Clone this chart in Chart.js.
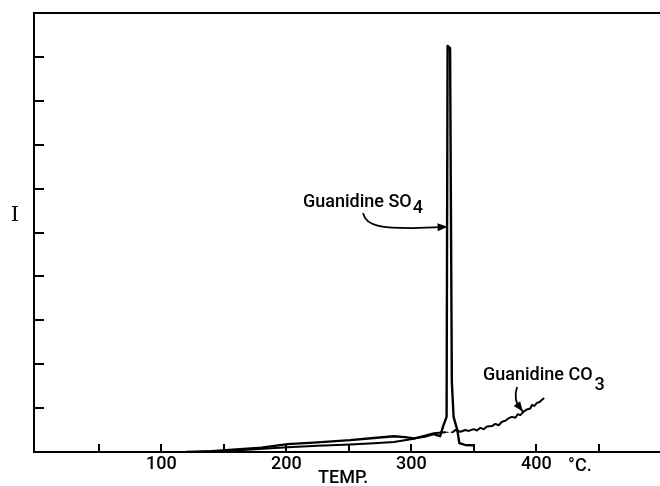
<!DOCTYPE html>
<html>
<head>
<meta charset="utf-8">
<script src="https://cdn.jsdelivr.net/npm/chart.js@4.4.1/dist/chart.umd.min.js"></script>
<style>
    body { margin: 0; background: #fff; overflow: hidden; }
    canvas { display: block; }
</style>
</head>
<body>
<canvas id="chartCanvas" width="660" height="486"></canvas>
<script>
// temperature (°C) and intensity readings
let so4Temp      = [120, 140, 160, 180, 201, 225, 251, 270, 286, 295, 302, 312, 318, 321, 323, 325.6, 328.2, 329.0, 331.0, 332.4, 333.8, 336.8, 338.4, 343, 349.5];
let so4Intensity = [0, 0.02, 0.06, 0.1, 0.18, 0.22, 0.27, 0.32, 0.36, 0.34, 0.31, 0.36, 0.41, 0.38, 0.36, 0.6, 0.8, 9.25, 9.2, 1.6, 0.8, 0.5, 0.2, 0.16, 0.15];

let co3Temp      = [130, 150, 175, 201, 225, 251, 270, 286, 302, 312, 318, 322, 327, 333, 335.2, 339.2, 343.2, 345.9, 349.9, 352.5, 355.2, 357.9, 360.5, 364.5, 367.2, 369.9, 372.5, 375.2, 377.9, 380.5, 383.2, 385.1, 387.2, 389.9, 392.5, 395.2, 396.5, 398.4, 400.5, 402.6, 405.8];
let co3Intensity = [0, 0.02, 0.06, 0.11, 0.14, 0.17, 0.2, 0.23, 0.3, 0.38, 0.43, 0.44, 0.45, 0.45, 0.5, 0.46, 0.5, 0.48, 0.52, 0.49, 0.55, 0.52, 0.58, 0.59, 0.64, 0.61, 0.69, 0.71, 0.77, 0.8, 0.78, 0.86, 0.84, 0.92, 0.97, 0.99, 1.07, 1.05, 1.12, 1.14, 1.22];

let xTicks  = [50, 100, 150, 200, 250, 300, 350, 400, 450];
let xLabels = { 100: '100', 200: '200', 300: '300', 400: '400' };
let yTicks  = [1, 2, 3, 4, 5, 6, 7, 8, 9];

let toPoints = function (xs, ys) {
    return xs.map(function (x, i) { return { x: x, y: ys[i] }; });
};

let letterFont = 'Roboto, "DejaVu Sans", sans-serif';

let drawArrow = function (ctx, pts, xs, ys) {
    let p = pts.map(function (d) { return [xs.getPixelForValue(d[0]), ys.getPixelForValue(d[1])]; });
    ctx.beginPath();
    ctx.moveTo(p[0][0], p[0][1]);
    ctx.bezierCurveTo(p[1][0], p[1][1], p[2][0], p[2][1], p[3][0], p[3][1]);
    ctx.lineTo(p[4][0], p[4][1]);
    ctx.stroke();
    // filled head, pointing along the last segment
    let ang = Math.atan2(p[4][1] - p[3][1], p[4][0] - p[3][0]);
    let tip = p[4];
    ctx.beginPath();
    ctx.moveTo(tip[0], tip[1]);
    ctx.lineTo(tip[0] - 10 * Math.cos(ang) + 4 * Math.sin(ang), tip[1] - 10 * Math.sin(ang) - 4 * Math.cos(ang));
    ctx.lineTo(tip[0] - 10 * Math.cos(ang) - 4 * Math.sin(ang), tip[1] - 10 * Math.sin(ang) + 4 * Math.cos(ang));
    ctx.closePath();
    ctx.fill();
};

let framePlugin = {
    id: 'frame',
    afterDraw: function (chart) {
        let ctx = chart.ctx;
        let a = chart.chartArea;
        let xs = chart.scales.x;
        let ys = chart.scales.y;

        ctx.save();
        ctx.strokeStyle = '#000';
        ctx.fillStyle = '#000';
        ctx.lineWidth = 2;
        ctx.lineCap = 'butt';

        // box: left, bottom, top (right side runs off the page)
        ctx.beginPath();
        ctx.moveTo(a.right, a.top);
        ctx.lineTo(a.left, a.top);
        ctx.lineTo(a.left, a.bottom);
        ctx.lineTo(a.right, a.bottom);
        ctx.stroke();

        // inward ticks
        ctx.beginPath();
        xTicks.forEach(function (v) {
            let px = Math.round(xs.getPixelForValue(v));
            ctx.moveTo(px, a.bottom);
            ctx.lineTo(px, a.bottom - 8);
        });
        yTicks.forEach(function (v) {
            let py = Math.round(ys.getPixelForValue(v));
            ctx.moveTo(a.left, py);
            ctx.lineTo(a.left + 10, py);
        });
        ctx.stroke();

        // axis words
        ctx.textBaseline = 'alphabetic';
        ctx.font = '21px "DejaVu Serif", serif';
        ctx.textAlign = 'center';
        ctx.fillText('I', 15, 221);
        ctx.font = '500 18px ' + letterFont;
        ctx.textAlign = 'left';
        ctx.fillText('TEMP.', 318, 483);
        ctx.fillText('°C.', 568, 471);

        // labels with subscripts
        let sx = xs.getPixelForValue(213.3), sy = ys.getPixelForValue(5.58);
        ctx.fillText('Guanidine SO', sx, sy);
        let w = ctx.measureText('Guanidine SO').width;
        ctx.fillText('4', sx + w + 1, sy + 6);

        let cx = xs.getPixelForValue(357.3), cy = ys.getPixelForValue(1.64);
        ctx.fillText('Guanidine CO', cx, cy);
        w = ctx.measureText('Guanidine CO').width;
        ctx.fillText('3', cx + w + 2, cy + 10);

        // arrows
        ctx.lineWidth = 1.8;
        drawArrow(ctx, [[261.3, 5.44], [263.7, 5.12], [278.9, 5.10], [300.5, 5.10], [329.0, 5.13]], xs, ys);
        drawArrow(ctx, [[384.6, 1.48], [382.2, 1.28], [383.6, 1.09], [387.4, 0.99], [389.2, 0.92]], xs, ys);

        ctx.restore();
    }
};

let lineStyle = {
    borderColor: '#000',
    borderWidth: 2,
    pointRadius: 0,
    fill: false,
    tension: 0,
    borderJoinStyle: 'round',
    borderCapStyle: 'round'
};

window.onload = function () {
    let ctx = document.getElementById('chartCanvas').getContext('2d');

    window.tempChart = new Chart(ctx, {
        type: 'line',
        data: {
            datasets: [
                Object.assign({ label: 'Guanidine SO4', data: toPoints(so4Temp, so4Intensity) }, lineStyle, { borderWidth: 2.4 }),
                Object.assign({
                    label: 'Guanidine CO3',
                    data: toPoints(co3Temp, co3Intensity),
                    // part hidden behind the SO4 peak is dashed
                    segment: {
                        borderDash: function (c) {
                            return (c.p0.parsed.x >= 326 && c.p1.parsed.x <= 334) ? [3, 3] : undefined;
                        },
                        borderWidth: function (c) {
                            return (c.p0.parsed.x >= 326 && c.p1.parsed.x <= 334) ? 1.2 : undefined;
                        }
                    }
                }, lineStyle)
            ]
        },
        options: {
            responsive: false,
            animation: false,
            layout: { padding: { top: 13, right: 0, left: 0, bottom: 0 } },
            plugins: {
                legend: { display: false },
                tooltip: { enabled: false }
            },
            scales: {
                x: {
                    type: 'linear',
                    min: -2,
                    max: 499,
                    afterBuildTicks: function (scale) {
                        scale.ticks = xTicks.map(function (v) { return { value: v }; });
                    },
                    afterFit: function (scale) { scale.height = 34; },
                    grid: { display: false, drawTicks: false },
                    border: { display: false },
                    ticks: {
                        autoSkip: false,
                        maxRotation: 0,
                        padding: 2,
                        color: '#000',
                        font: { family: letterFont, size: 18, weight: '500' },
                        callback: function (v) { return xLabels[v] || ''; }
                    }
                },
                y: {
                    min: 0,
                    max: 10,
                    afterBuildTicks: function (scale) {
                        scale.ticks = yTicks.map(function (v) { return { value: v }; });
                    },
                    afterFit: function (scale) { scale.width = 34; },
                    grid: { display: false, drawTicks: false },
                    border: { display: false },
                    ticks: { display: false }
                }
            }
        },
        plugins: [framePlugin]
    });
};
</script>
</body>
</html>
